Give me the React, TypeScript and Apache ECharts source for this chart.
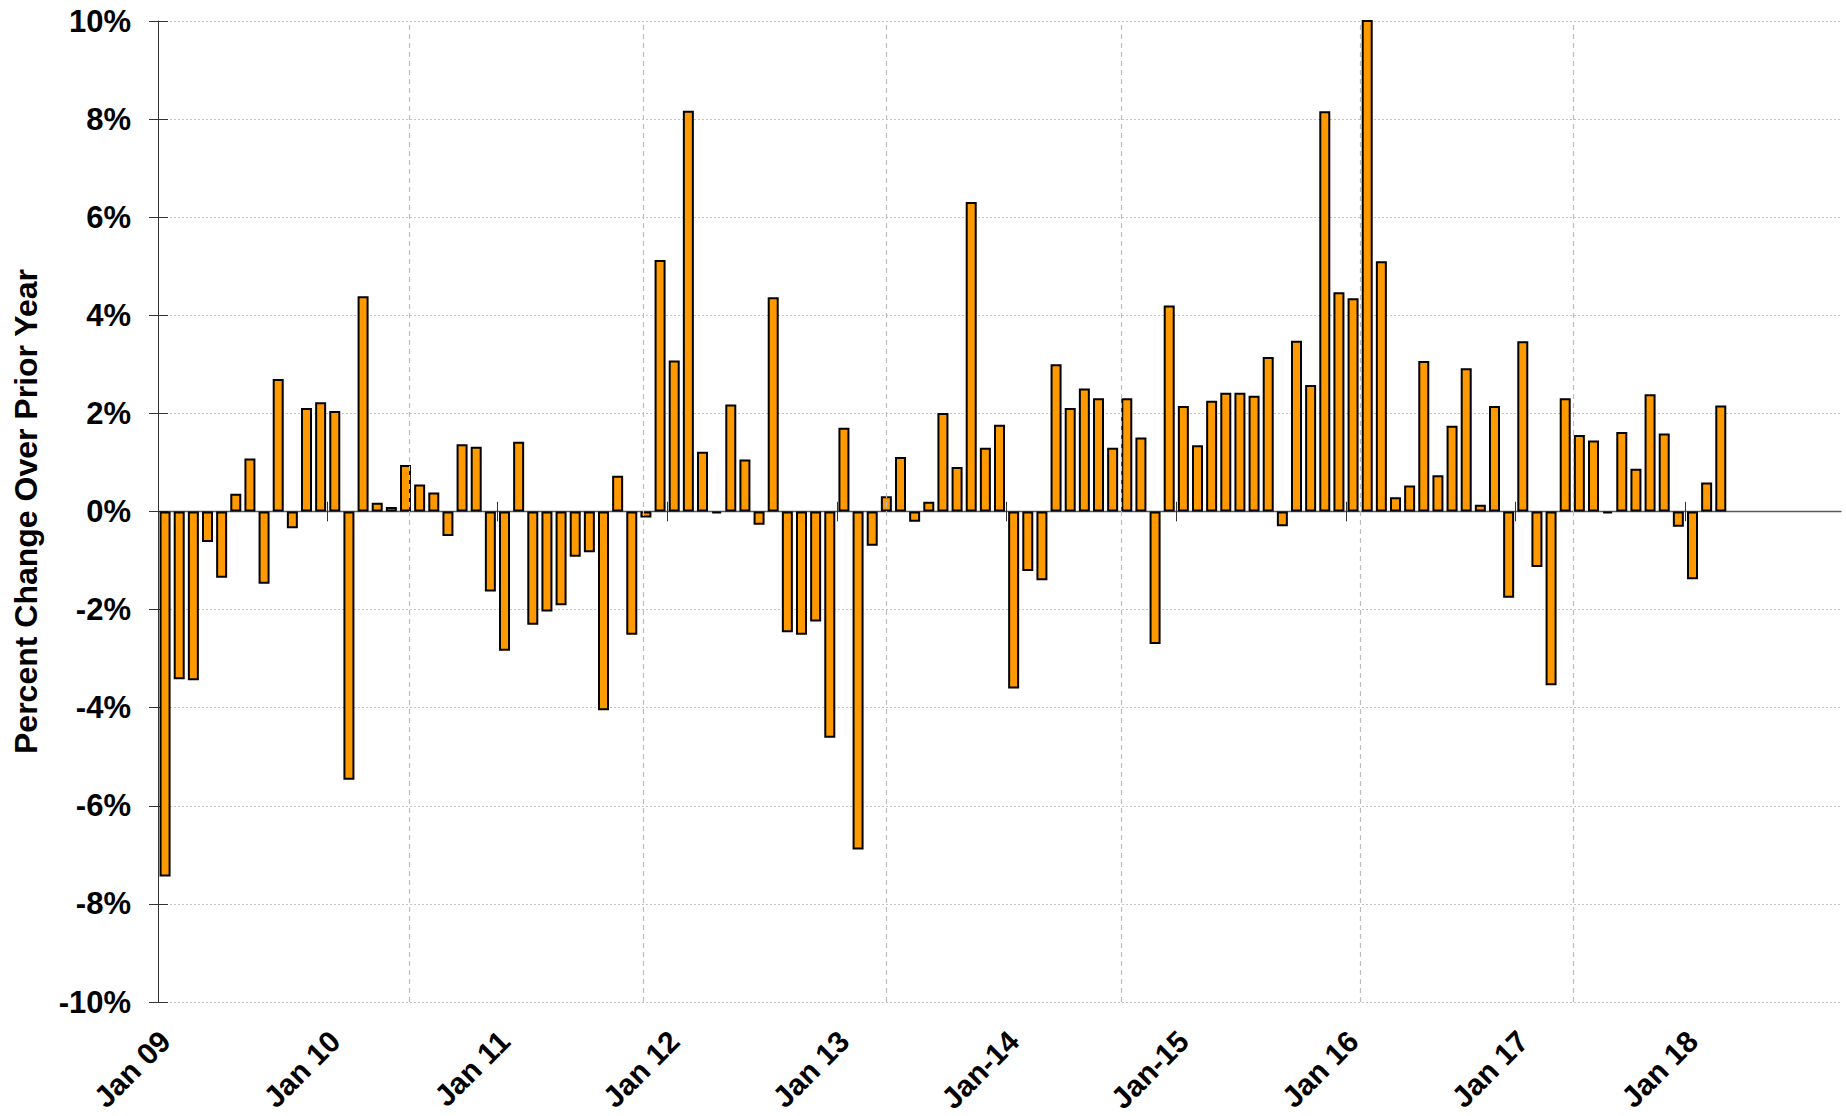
import React, { useEffect, useRef } from "react";
import * as echarts from "echarts";

// ---- Data ----
const MONTHS = ["Jan", "Feb", "Mar", "Apr", "May", "Jun", "Jul", "Aug", "Sep", "Oct", "Nov", "Dec"];
const YEAR_SUFFIX = ["09", "10", "11", "12", "13", "14", "15", "16", "17", "18"];
// January tick labels as printed on the chart
const YEAR_LABELS = ["Jan 09", "Jan 10", "Jan 11", "Jan 12", "Jan 13", "Jan-14", "Jan-15", "Jan 16", "Jan 17", "Jan 18"];
const AXIS_MONTH_COUNT = 119; // Jan 09 .. Nov 18 shown on the axis

// Percent change over prior year, monthly from Jan 09 to Mar 18
const pctChange = [
  -7.44, -3.42, -3.44, -0.62, -1.35, 0.36, 1.08, -1.47, 2.7, -0.34, 2.11, 2.23,
  2.05, -5.47, 4.39, 0.18, 0.09, 0.95, 0.55, 0.39, -0.5, 1.37, 1.32, -1.63,
  -2.84, 1.42, -2.31, -2.04, -1.91, -0.92, -0.83, -4.05, 0.73, -2.51, -0.12, 5.13,
  3.08, 8.17, 1.22, -0.04, 2.18, 1.06, -0.27, 4.37, -2.46, -2.51, -2.24, -4.61,
  1.71, -6.89, -0.7, 0.31, 1.11, -0.21, 0.2, 2.01, 0.91, 6.31, 1.3, 1.77,
  -3.61, -1.21, -1.4, 3.0, 2.11, 2.51, 2.31, 1.3, 2.31, 1.51, -2.7, 4.2,
  2.15, 1.35, 2.26, 2.42, 2.42, 2.36, 3.15, -0.3, 3.48, 2.58, 8.16, 4.47,
  4.35, 10.8, 5.1, 0.29, 0.53, 3.07, 0.74, 1.75, 2.92, 0.14, 2.15, -1.76,
  3.47, -1.13, -3.54, 2.31, 1.56, 1.45, -0.04, 1.62, 0.87, 2.39, 1.59, -0.31,
  -1.38, 0.59, 2.16,
];

// Y axis range / ticks (percent)
const Y_MIN = -10;
const Y_MAX = 10;
const Y_STEP = 2;

// Vertical dashed reference lines, in month units from the axis start
const dashedMarkers = [17.8, 34.3, 51.5, 68.1, 85.0, 100.1];
// Year-boundary ticks crossing the zero line (month units from the axis start)
const yearTickPositions = [12, 24, 36, 48, 60, 72, 84, 96, 108];
const YEAR_TICK_HALF = 0.2; // tick half-length in percent units

const categories: string[] = [];
for (let y = 0; y < YEAR_SUFFIX.length; y++) {
  for (let m = 0; m < 12; m++) {
    if (categories.length >= AXIS_MONTH_COUNT) break;
    categories.push(m === 0 ? YEAR_LABELS[y] : `${MONTHS[m]} ${YEAR_SUFFIX[y]}`);
  }
}

const FONT = "'Liberation Sans', Arial, Helvetica, sans-serif";

export default function App() {
  const ref = useRef<HTMLDivElement>(null);

  useEffect(() => {
    if (!ref.current) return;
    const chart = echarts.init(ref.current, undefined, { renderer: "svg" });

    const tickLen = 9;
    const tickStyle = { color: "#333", width: 1 };

    const option: any = {
      animation: false,
      backgroundColor: "#ffffff",
      grid: { left: 158, right: 5, top: 21, bottom: 113 },
      xAxis: [
        {
          // labels only, bottom of plot
          type: "category",
          data: categories,
          boundaryGap: true,
          position: "bottom",
          axisLine: { show: false, onZero: false },
          axisTick: { show: false },
          splitLine: { show: false },
          axisLabel: {
            interval: 11,
            rotate: 45,
            margin: 34,
            color: "#000",
            fontFamily: FONT,
            fontWeight: "bold",
            fontSize: 30,
          },
        },
        {
          // zero line
          type: "category",
          data: categories,
          boundaryGap: true,
          position: "bottom",
          axisLine: { show: true, onZero: true, lineStyle: { color: "#5a5a5a", width: 1.4 } },
          axisTick: { show: false },
          axisLabel: { show: false },
          splitLine: { show: false },
        },
        {
          // hidden linear axis for reference lines and year ticks
          type: "value",
          min: 0,
          max: AXIS_MONTH_COUNT,
          show: false,
          axisLine: { onZero: false },
          splitLine: { show: false },
        },
      ],
      yAxis: [
        {
          type: "value",
          min: Y_MIN,
          max: Y_MAX,
          interval: Y_STEP,
          position: "left",
          axisLine: { show: true, onZero: false, lineStyle: { color: "#333", width: 1 } },
          axisTick: { show: true, inside: false, length: tickLen, lineStyle: tickStyle },
          axisLabel: {
            formatter: (v: number) => `${v}%`,
            margin: 27,
            color: "#000",
            fontFamily: FONT,
            fontWeight: "bold",
            fontSize: 31,
          },
          splitLine: { show: true, lineStyle: { color: "#c4c4c4", type: [2, 2], width: 1 } },
          name: "Percent Change Over Prior Year",
          nameLocation: "middle",
          nameGap: 116,
          nameTextStyle: {
            color: "#000",
            fontFamily: FONT,
            fontWeight: "bold",
            fontSize: 32,
          },
        },
        {
          type: "value",
          min: Y_MIN,
          max: Y_MAX,
          interval: Y_STEP,
          position: "left",
          axisLine: { show: false, onZero: false },
          axisTick: { show: true, inside: true, length: tickLen + 1, lineStyle: tickStyle },
          axisLabel: { show: false },
          splitLine: { show: false },
        },
      ],
      series: [
        {
          type: "line",
          xAxisIndex: 2,
          yAxisIndex: 0,
          data: [],
          silent: true,
          symbol: "none",
          z: 1,
          markLine: {
            silent: true,
            symbol: ["none", "none"],
            label: { show: false },
            lineStyle: { color: "#bdbdbd", type: [5, 4], width: 1.2 },
            data: dashedMarkers.map((u) => ({ xAxis: u })),
          },
        },
        {
          type: "line",
          xAxisIndex: 2,
          yAxisIndex: 0,
          data: [],
          silent: true,
          symbol: "none",
          z: 4,
          markLine: {
            silent: true,
            symbol: ["none", "none"],
            label: { show: false },
            lineStyle: { color: "#333", type: "solid", width: 1 },
            data: yearTickPositions.map((u) => [
              { coord: [u, YEAR_TICK_HALF] },
              { coord: [u, -YEAR_TICK_HALF] },
            ]),
          },
        },
        {
          type: "bar",
          xAxisIndex: 1,
          yAxisIndex: 0,
          data: pctChange,
          barWidth: 11,
          z: 3,
          itemStyle: {
            color: "#ff9900",
            borderColor: "#000000",
            borderWidth: 2,
          },
        },
      ],
    };

    chart.setOption(option);
    return () => chart.dispose();
  }, []);

  return (
    <div
      ref={ref}
      style={{ position: "fixed", left: 0, top: 0, width: 1846, height: 1116, background: "#fff" }}
    />
  );
}
